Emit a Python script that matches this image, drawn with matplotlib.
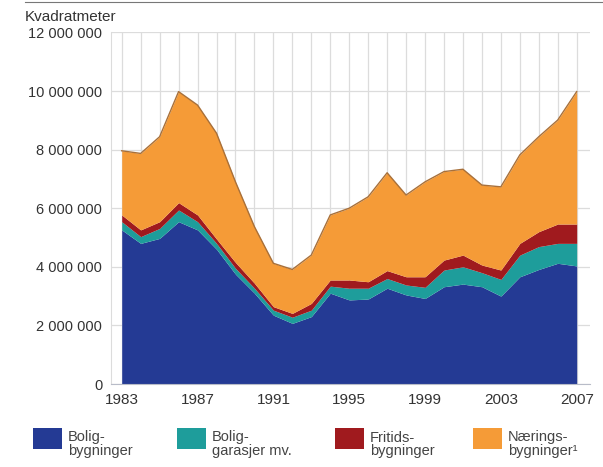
import matplotlib
matplotlib.use('Agg')
import matplotlib.pyplot as plt
from matplotlib.patches import Rectangle
from matplotlib.lines import Line2D
from matplotlib.ticker import FuncFormatter

plt.rcParams['font.family'] = ['Liberation Sans', 'DejaVu Sans']

# Areal, kvadratmeter
years = list(range(1983, 2008))
bolig = [5260000, 4800000, 4970000, 5540000, 5260000, 4600000, 3750000, 3100000, 2350000, 2070000,
         2300000, 3100000, 2870000, 2900000, 3270000, 3040000, 2920000, 3320000, 3410000, 3320000,
         3000000, 3660000, 3910000, 4120000, 4030000]
garasjer = [280000, 230000, 340000, 400000, 280000, 200000, 200000, 170000, 170000, 210000,
            220000, 240000, 400000, 370000, 330000, 340000, 380000, 570000, 590000, 480000,
            570000, 740000, 780000, 680000, 770000]
fritids = [230000, 230000, 230000, 250000, 230000, 150000, 200000, 170000, 120000, 130000,
           230000, 210000, 280000, 220000, 270000, 280000, 360000, 340000, 400000, 260000,
           320000, 400000, 510000, 660000, 660000]
naering = [2190000, 2610000, 2900000, 3790000, 3750000, 3610000, 2750000, 1930000, 1480000, 1500000,
           1650000, 2220000, 2450000, 2900000, 3340000, 2790000, 3240000, 3020000, 2930000, 2730000,
           2840000, 3020000, 3240000, 3550000, 4520000]

labels = ['Bolig-\nbygninger', 'Bolig-\ngarasjer mv.', 'Fritids-\nbygninger', 'Nærings-\nbygninger¹']
colors = ['#243a94', '#1e9d9b', '#a01a1e', '#f59b37']
series = [bolig, garasjer, fritids, naering]

W, H = 603, 467
fig = plt.figure(figsize=(W / 100, H / 100), dpi=100, facecolor='white')
ax = fig.add_axes([0.1833, 0.1777, 0.7951, 0.7529])

bottom = [0] * len(years)
for vals, col in zip(series, colors):
    top = [b + v for b, v in zip(bottom, vals)]
    ax.fill_between(years, bottom, top, color=col, linewidth=0, zorder=2)
    bottom = top
ax.plot(years, bottom, color='#a8703a', linewidth=1.0, zorder=3)

ax.set_xlim(1982.41, 2007.7)
ax.set_ylim(0, 12000000)
ax.set_xticks(range(1983, 2008, 4))
ax.set_xticks(years, minor=True)
ax.set_yticks(range(0, 12000001, 2000000))
ax.yaxis.set_major_formatter(FuncFormatter(lambda v, p: f'{int(v):,}'.replace(',', ' ')))
ax.grid(True, which='both', axis='x', color='#dcdcdc', linewidth=0.9, zorder=0)
ax.grid(True, which='major', axis='y', color='#dcdcdc', linewidth=0.9, zorder=0)
ax.set_axisbelow(True)
ax.tick_params(axis='both', which='both', length=0, labelcolor='#333333')
ax.tick_params(axis='y', pad=6, labelsize=10.5)
ax.tick_params(axis='x', pad=6.5, labelsize=11)
for s in ['top', 'right']:
    ax.spines[s].set_visible(False)
ax.spines['left'].set_color('#dcdcdc')
ax.spines['bottom'].set_color('#b8bcc8')
ax.spines['bottom'].set_zorder(4)

fig.text(25 / W, 1 - 17 / H, 'Kvadratmeter', fontsize=11, color='#333333', va='center', ha='left')
fig.add_artist(Line2D([25 / W, 1.0], [1 - 2 / H, 1 - 2 / H], color='#777777', linewidth=0.8))

# forklaring
legend_x = [33, 177, 335, 473]
for lx, lab, col in zip(legend_x, labels, colors):
    fig.add_artist(Rectangle((lx / W, 1 - 449 / H), 29 / W, 21 / H, transform=fig.transFigure,
                             facecolor=col, edgecolor='none'))
    fig.text((lx + 35) / W, 1 - 444.5 / H, lab, fontsize=10.5, color='#444444',
             va='center', ha='left', linespacing=1.0)

fig.savefig('out.png', dpi=100, facecolor='white')
